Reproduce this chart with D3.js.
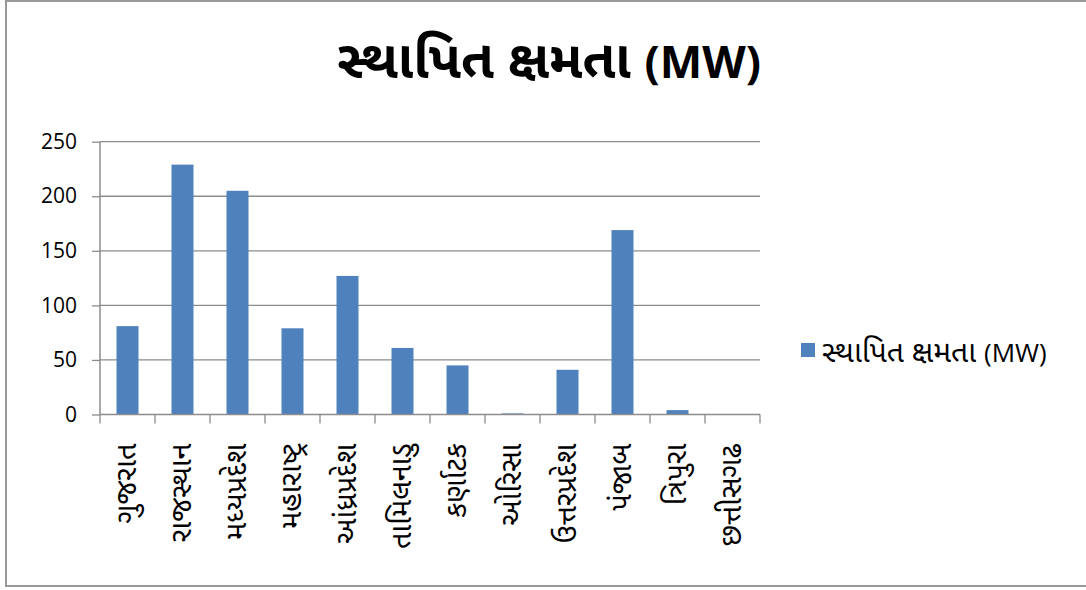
<!DOCTYPE html>
<html>
<head>
<meta charset="utf-8">
<script src="https://cdn.jsdelivr.net/npm/d3@7/dist/d3.min.js"></script>
<style>
  html, body { margin: 0; padding: 0; background: #fff; }
  svg { display: block; font-family: "Noto Sans Gujarati", "Noto Sans", "DejaVu Sans", sans-serif; }
</style>
</head>
<body>
<svg id="chart" width="1086" height="590"></svg>
<script>
const titleGu = "સ્થાપિત ક્ષમતા";
const titleUnit = "(MW)";
const categories = ["ગુજરાત", "રાજસ્થાન", "મધ્યપ્રદેશ", "મહારાષ્ટ્ર", "આંધ્રપ્રદેશ", "તામિલનાડુ", "કર્ણાટક", "ઓરિસા", "ઉત્તરપ્રદેશ", "પંજાબ", "ત્રિપુરા", "છત્તીસગઢ"];
const values = [81, 229, 205, 79, 127, 61, 45, 1, 41, 169, 4, 0];
const yTicks = [0, 50, 100, 150, 200, 250];

const svg = d3.select("#chart");
const barColor = "#4F81BD";
const gridColor = "#8c8c8c";
const latin = "'Open Sans', 'Liberation Sans', sans-serif";

// chart border
svg.append("rect")
  .attr("x", 6).attr("y", 1)
  .attr("width", 1100).attr("height", 585)
  .attr("fill", "#fff")
  .attr("stroke", "#999").attr("stroke-width", 2);

const plot = { left: 100, right: 760, top: 141.7, bottom: 414.5 };

const x = d3.scaleBand().domain(categories).range([plot.left, plot.right]).paddingInner(0).paddingOuter(0);
const y = d3.scaleLinear().domain([0, 250]).range([plot.bottom, plot.top]);

// gridlines
svg.append("g").selectAll("line").data(yTicks.filter(d => d > 0)).join("line")
  .attr("x1", plot.left).attr("x2", plot.right)
  .attr("y1", d => y(d)).attr("y2", d => y(d))
  .attr("stroke", gridColor).attr("stroke-width", 1.3);

// bars
const bw = x.bandwidth() / 2.5;
svg.append("g").selectAll("rect").data(values).join("rect")
  .attr("x", (d, i) => x(categories[i]) + (x.bandwidth() - bw) / 2)
  .attr("width", bw)
  .attr("y", d => y(d))
  .attr("height", d => y(0) - y(d))
  .attr("fill", barColor);

// y axis
const yAxis = d3.axisLeft(y).tickValues(yTicks).tickSize(8).tickPadding(15);
const gy = svg.append("g").attr("transform", `translate(${plot.left},0)`).call(yAxis);
gy.select(".domain").attr("stroke", gridColor).attr("stroke-width", 1.5).attr("d", `M0,${plot.top}V${plot.bottom}`);
gy.selectAll(".tick line").attr("stroke", gridColor).attr("stroke-width", 1.3);
gy.selectAll(".tick text").attr("font-size", 21).attr("fill", "#000")
  .attr("font-family", latin);

// x axis
const gx = svg.append("g").attr("transform", `translate(0,${plot.bottom})`);
gx.append("line").attr("x1", plot.left).attr("x2", plot.right)
  .attr("stroke", gridColor).attr("stroke-width", 1.5);
const boundaries = categories.map(c => x(c)).concat([plot.right]);
gx.selectAll("line.tk").data(boundaries).join("line").attr("class", "tk")
  .attr("x1", d => d).attr("x2", d => d).attr("y1", 0).attr("y2", 9)
  .attr("stroke", gridColor).attr("stroke-width", 1.3);
gx.selectAll("text").data(categories).join("text")
  .attr("transform", d => `translate(${x(d) + x.bandwidth() / 2},29) rotate(-90)`)
  .attr("text-anchor", "end")
  .attr("dy", "0.3em")
  .attr("font-size", 29)
  .attr("fill", "#000")
  .text(d => d);

// title
const t = svg.append("text")
  .attr("x", 549).attr("y", 78)
  .attr("text-anchor", "middle")
  .attr("font-weight", "bold")
  .attr("fill", "#000");
t.append("tspan").attr("font-size", 53).text(titleGu + " ");
t.append("tspan").attr("font-size", 45).attr("font-family", latin).text(titleUnit);

// legend
svg.append("rect").attr("x", 801).attr("y", 343).attr("width", 14).attr("height", 14).attr("fill", barColor);
const lt = svg.append("text").attr("x", 822).attr("y", 362).attr("fill", "#000");
lt.append("tspan").attr("font-size", 30).text(titleGu + " ");
lt.append("tspan").attr("font-size", 26).attr("font-family", latin).text(titleUnit);
</script>
</body>
</html>
